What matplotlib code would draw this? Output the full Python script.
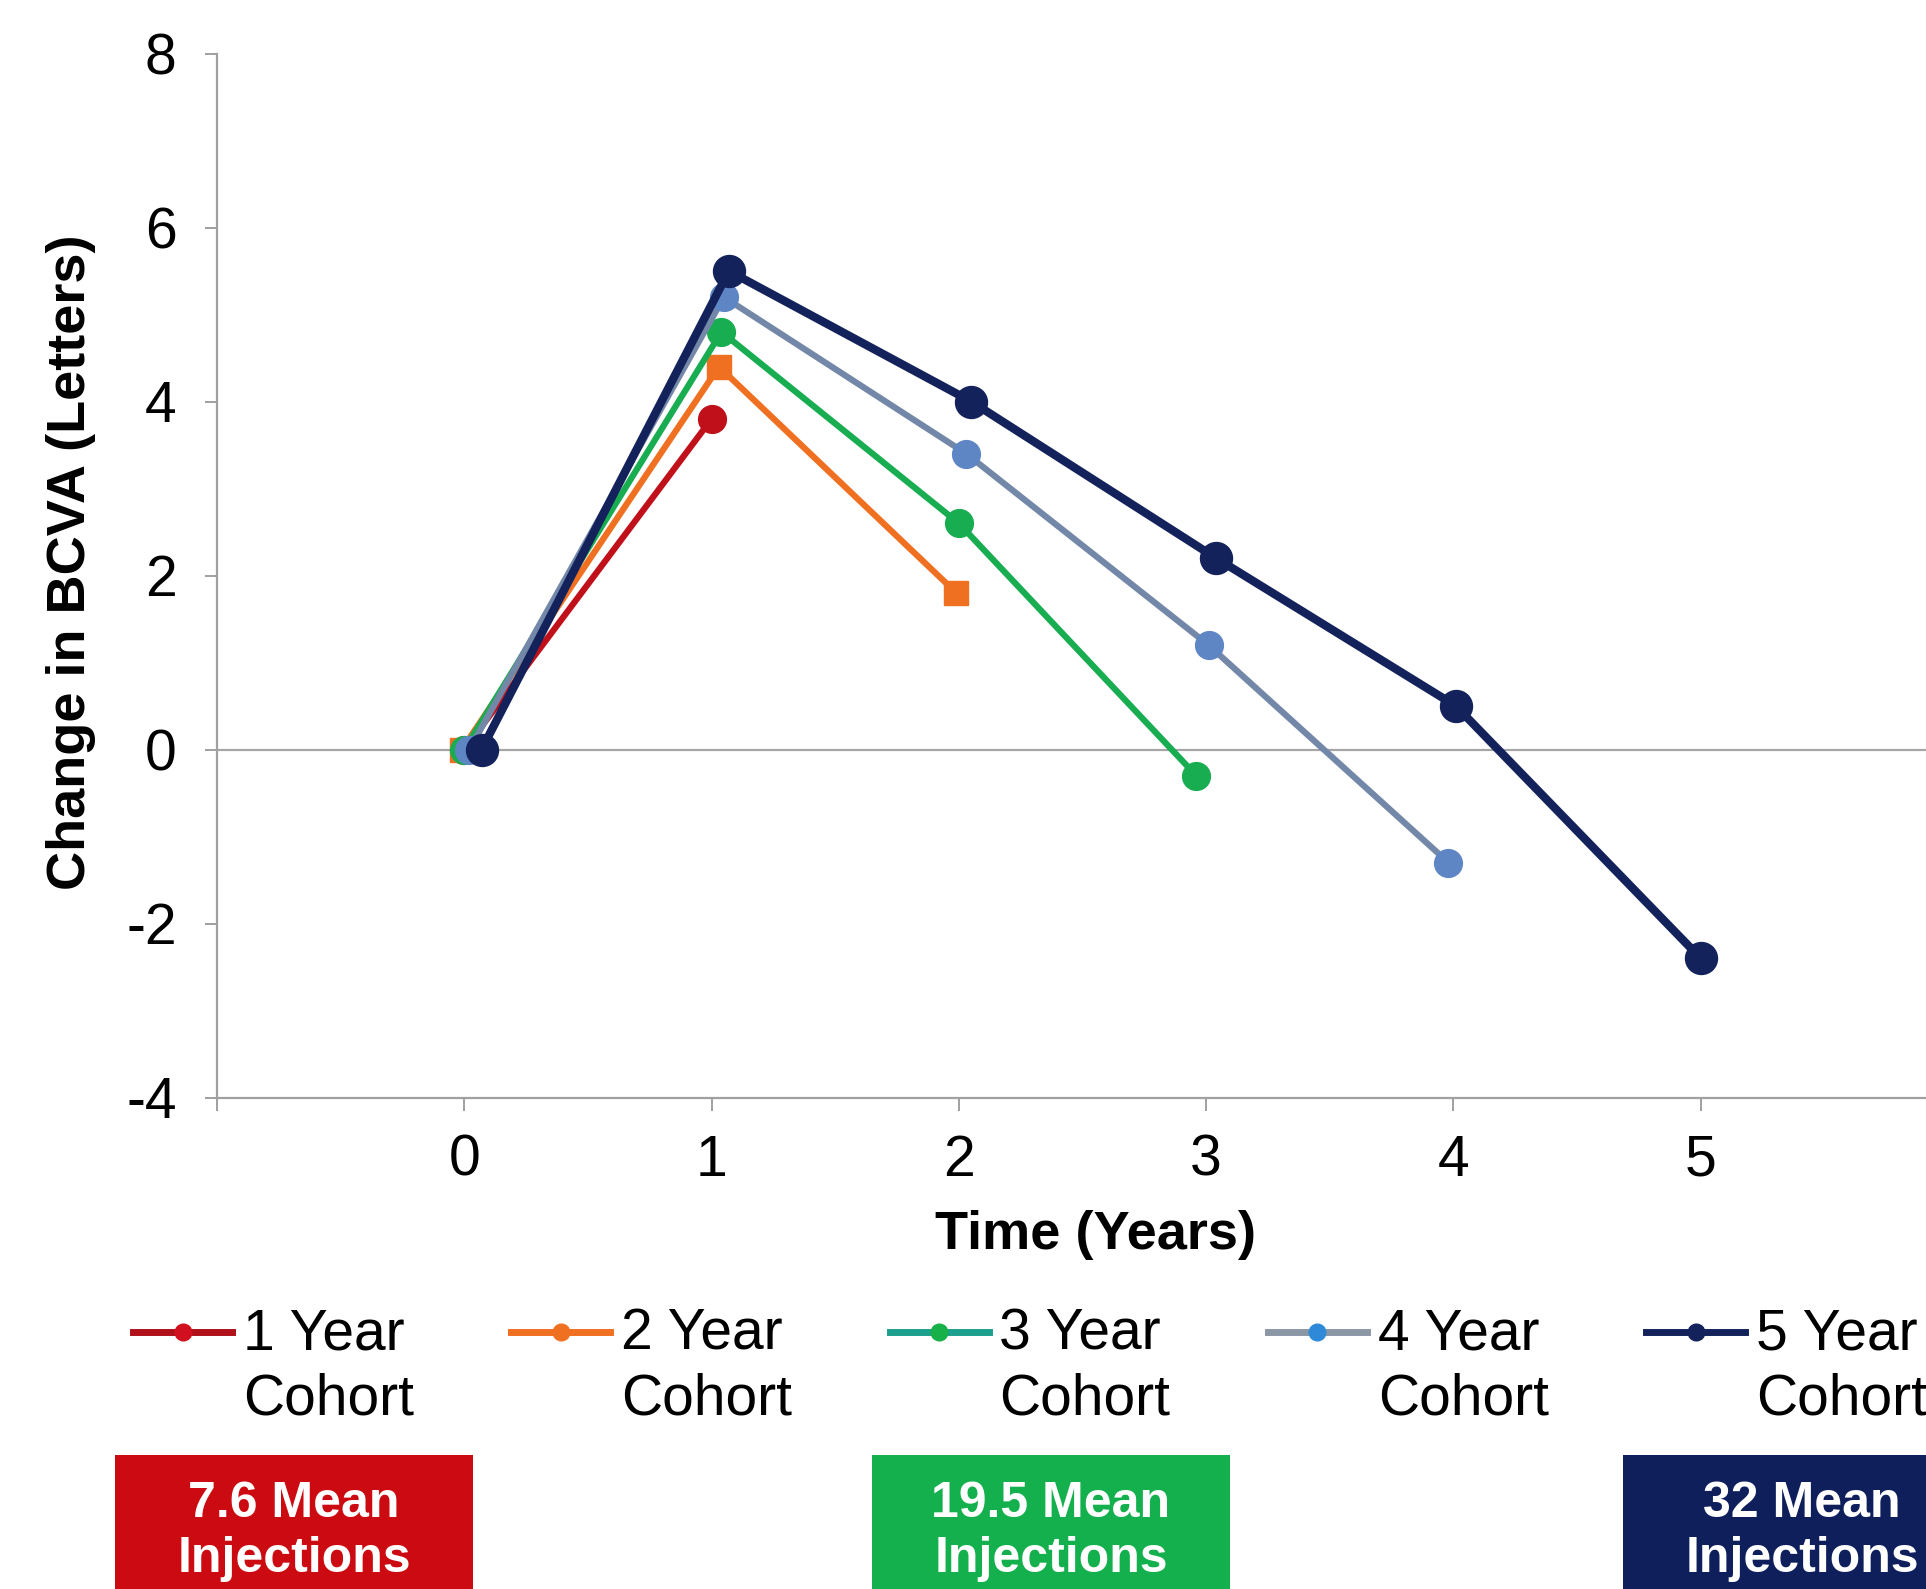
import numpy as np
import matplotlib
matplotlib.use("Agg")
import matplotlib.pyplot as plt
from matplotlib.legend_handler import HandlerLine2D
from matplotlib.patches import Rectangle

plt.rcParams["font.family"] = ["Liberation Sans", "DejaVu Sans"]
plt.rcParams["axes.unicode_minus"] = False

# mean change in BCVA (letters) by follow-up year, one series per cohort
cohort_labels = ["1 Year\nCohort", "2 Year\nCohort", "3 Year\nCohort",
                 "4 Year\nCohort", "5 Year\nCohort"]
years_1 = [0.0, 1.0]
bcva_1 = [0.0, 3.8]
years_2 = [-0.01, 1.03, 1.99]
bcva_2 = [0.0, 4.4, 1.8]
years_3 = [0.0, 1.04, 2.0, 2.96]
bcva_3 = [0.0, 4.8, 2.6, -0.3]
years_4 = [0.02, 1.05, 2.03, 3.01, 3.98]
bcva_4 = [0.0, 5.2, 3.4, 1.2, -1.3]
years_5 = [0.07, 1.07, 2.05, 3.04, 4.01, 5.0]
bcva_5 = [0.0, 5.5, 4.0, 2.2, 0.5, -2.4]

x_ticks = [-1, 0, 1, 2, 3, 4, 5]
x_ticklabels = ["", "0", "1", "2", "3", "4", "5"]
y_ticks = [-4, -2, 0, 2, 4, 6, 8]

injection_labels = ["7.6 Mean\nInjections", "19.5 Mean\nInjections", "32 Mean\nInjections"]

series = [
    (years_1, bcva_1, dict(color="#C0101A", marker="o", lw=4.5, ms=20)),
    (years_2, bcva_2, dict(color="#F07022", marker="s", lw=4.5, ms=17)),
    (years_3, bcva_3, dict(color="#19AD52", marker="o", lw=4.5, ms=20)),
    (years_4, bcva_4, dict(color="#7388A8", marker="o", lw=4.5, ms=20,
                           mfc="#5F86C4", mec="#5F86C4")),
    (years_5, bcva_5, dict(color="#13225A", marker="o", lw=6, ms=23)),
]

# legend keys use slightly different tints than the plotted lines
legend_styles = [
    dict(color="#B0101A", mfc="#D0101E", mec="#D0101E"),
    dict(color="#F07022", mfc="#F07022", mec="#F07022"),
    dict(color="#1CA08E", mfc="#18B048", mec="#18B048"),
    dict(color="#8C97A6", mfc="#2E8AD8", mec="#2E8AD8"),
    dict(color="#13225A", mfc="#13225A", mec="#13225A"),
]

box_colors = ["#CC0A12", "#14B04E", "#0F1F5C"]
box_left_px = [115, 872, 1623]
box_width_px = 358

W, H = 1926, 1589
fig = plt.figure(figsize=(W / 100, H / 100), dpi=100)
ax = fig.add_axes([217 / W, 1 - 1097.5 / H, (W - 217) / W, (1097.5 - 53.5) / H])

ax.axhline(0, color="#A6A6A6", lw=1.6, zorder=1)

lines = []
for xs, ys, st in series:
    ln, = ax.plot(xs, ys, zorder=3, **st)
    lines.append(ln)

ax.set_xlim(-1, (W - 464.2) / 247.3)
ax.set_ylim(-4, 8)
ax.set_xticks(x_ticks)
ax.set_xticklabels(x_ticklabels)
ax.set_yticks(y_ticks)

for s in ("top", "right"):
    ax.spines[s].set_visible(False)
for s in ("left", "bottom"):
    ax.spines[s].set_color("#A0A0A0")
    ax.spines[s].set_linewidth(1.6)

ax.tick_params(axis="both", labelsize=41, colors="#A0A0A0", labelcolor="black",
               width=1.4, length=9)
ax.tick_params(axis="y", pad=20)
ax.tick_params(axis="x", pad=17)

ax.set_xlabel("Time (Years)", fontsize=39, fontweight="bold")
ax.set_ylabel("Change in BCVA (Letters)", fontsize=39, fontweight="bold")
ax.xaxis.set_label_coords(0.5138, -0.108)
ax.yaxis.set_label_coords(-0.071, 0.513)


class FirstLineHandler(HandlerLine2D):
    # keep the key level with the first line of a two-line label
    def create_artists(self, legend, orig_handle, xdescent, ydescent,
                       width, height, fontsize, trans):
        arts = super().create_artists(legend, orig_handle, xdescent, ydescent,
                                      width, height, fontsize, trans)
        idx = lines.index(orig_handle)
        for a in arts:
            a.set_ydata(np.asarray(a.get_ydata(), float) + 0.62 * fontsize)
            a.set_marker("o")
            a.set_markersize(12)
            a.set_linewidth(5)
            a.set_color(legend_styles[idx]["color"])
            a.set_markerfacecolor(legend_styles[idx]["mfc"])
            a.set_markeredgecolor(legend_styles[idx]["mec"])
        return arts


leg = fig.legend(lines, cohort_labels, loc="upper left",
                 bbox_to_anchor=(133 / W, 1 - 1307 / H), ncol=5, frameon=False,
                 fontsize=41, handlelength=1.74, handletextpad=0.19,
                 columnspacing=1.71, borderpad=0, borderaxespad=0, numpoints=1,
                 handler_map={ln: FirstLineHandler() for ln in lines})
for t in leg.get_texts():
    t.set_linespacing(1.27)

# injection count boxes along the bottom edge
for lbl, col, x0 in zip(injection_labels, box_colors, box_left_px):
    fig.add_artist(Rectangle((x0 / W, -0.02), box_width_px / W, 1 - 1455 / H + 0.02,
                             transform=fig.transFigure, facecolor=col,
                             edgecolor="none"))
    fig.text((x0 + box_width_px / 2) / W, 1 - 1572 / H, lbl, color="white",
             fontsize=36, fontweight="bold", ha="center", va="baseline",
             linespacing=1.25)

fig.savefig("out.png", dpi=100, facecolor="white")
